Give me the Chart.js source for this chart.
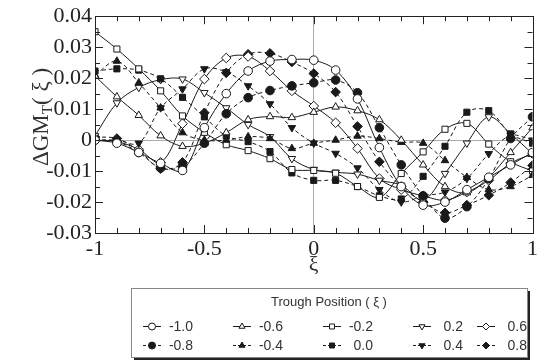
<!DOCTYPE html>
<html>
<head>
<meta charset="utf-8">
<script src="https://cdn.jsdelivr.net/npm/chart.js@4"></script>
<style>
html, body { margin: 0; padding: 0; background: #fff; }
#wrap { width: 541px; height: 362px; }
</style>
</head>
<body>
<div id="wrap"><canvas id="chart"></canvas></div>
<script>
// xi positions where each curve was sampled
const xiValues = [-1.0, -0.9, -0.8, -0.7, -0.6, -0.5, -0.4, -0.3, -0.2, -0.1, 0.0,
                  0.1, 0.2, 0.3, 0.4, 0.5, 0.6, 0.7, 0.8, 0.9, 1.0];

// one array per trough position
const troughM10 = [0.0, -0.001, -0.004, -0.0075, -0.0098, 0.004, 0.015, 0.0223, 0.0255, 0.026, 0.0258,
                   0.0226, 0.0133, -0.0024, -0.015, -0.021, -0.02, -0.016, -0.012, -0.008, -0.004];
const troughM08 = [0.0, -0.0005, -0.004, -0.009, -0.0085, -0.001, 0.0085, 0.0137, 0.016, 0.0175, 0.0185,
                   0.0194, 0.0153, 0.004, -0.008, -0.018, -0.0252, -0.0215, -0.0125, 0.0005, 0.0075];
const troughM06 = [0.0207, 0.014, 0.008, 0.0014, -0.002, -0.001, 0.0024, 0.0066, 0.0076, 0.0073, 0.009,
                   0.0107, 0.0095, 0.0066, 0.0, -0.008, -0.015, -0.017, -0.012, -0.004, 0.004];
const troughM04 = [0.021, 0.0255, 0.0185, 0.0104, 0.0024, 0.0, 0.0, 0.0011, 0.0005, -0.0027, -0.001,
                   0.0, 0.0013, 0.0005, -0.0007, -0.001, -0.0066, -0.012, -0.016, -0.015, -0.0114];
const troughM02 = [0.035, 0.0294, 0.023, 0.0159, 0.0078, 0.0025, -0.0015, -0.0034, -0.006, -0.0095, -0.0098,
                   -0.0107, -0.015, -0.0185, -0.0108, -0.0038, 0.0035, 0.0054, -0.0013, -0.007, -0.01];
const trough00  = [0.0223, 0.023, 0.0226, 0.0198, 0.0138, 0.0075, 0.0013, -0.0005, -0.0037, -0.0106, -0.013,
                   -0.013, -0.015, -0.018, -0.019, -0.0117, -0.002, 0.009, 0.0095, 0.002, -0.001];
const trough02  = [0.0014, 0.012, 0.017, 0.0195, 0.0197, 0.0153, 0.0104, 0.005, 0.0011, -0.006, -0.0095,
                   -0.0104, -0.011, -0.013, -0.0146, -0.0194, -0.0108, -0.001, 0.0075, 0.002, -0.0044];
const trough04  = [0.0, 0.0, -0.001, 0.0104, 0.0165, 0.023, 0.022, 0.0175, 0.0117, 0.004, -0.001,
                   -0.0043, -0.009, -0.016, -0.02, -0.018, -0.0168, -0.0124, -0.0044, 0.0015, 0.0];
const trough06  = [0.0, -0.0005, -0.003, -0.0072, 0.0053, 0.0197, 0.0265, 0.027, 0.0223, 0.0159, 0.011,
                   0.0056, -0.0027, -0.0124, -0.016, -0.018, -0.0194, -0.0168, -0.013, -0.0075, -0.0044];
const trough08  = [0.001, 0.0005, -0.0034, -0.0092, -0.0072, 0.0088, 0.0217, 0.0277, 0.028, 0.0252, 0.0215,
                   0.0155, 0.0044, -0.007, -0.015, -0.02, -0.0235, -0.021, -0.0178, -0.0137, -0.0082];

const seriesLabels = ['-1.0', '-0.8', '-0.6', '-0.4', '-0.2', '0.0', '0.2', '0.4', '0.6', '0.8'];
const seriesValues = [troughM10, troughM08, troughM06, troughM04, troughM02,
                      trough00, trough02, trough04, trough06, trough08];

const xTickLabels = ['-1', '-0.5', '0', '0.5', '1'];
const yTickLabels = ['-0.03', '-0.02', '-0.01', '0', '0.01', '0.02', '0.03', '0.04'];

// marker per series: open markers with solid line, filled with dashed line
const shapes = ['circle', 'circle', 'triangle', 'triangle', 'rect', 'rect', 'triangle', 'triangle', 'rectRot', 'rectRot'];
const rotations = [0, 0, 0, 0, 0, 0, 180, 180, 0, 0];
const ink = '#1a1a1a';

const datasets = seriesLabels.map((lab, i) => {
    const filled = i % 2 === 1;
    return {
        label: lab,
        data: xiValues.map((x, k) => ({ x: x, y: seriesValues[i][k] })),
        borderColor: ink,
        borderWidth: 1,
        borderDash: filled ? [4, 3] : [],
        backgroundColor: filled ? ink : '#fff',
        pointStyle: shapes[i],
        pointRotation: rotations[i],
        pointRadius: shapes[i] === 'rectRot' ? 4.8 : 4.3,
        pointBorderWidth: 1,
        pointBorderColor: ink,
        pointBackgroundColor: filled ? ink : '#fff',
        tension: 0.35,
        fill: false
    };
});

function nearZero(v) { return Math.abs(v) < 1e-9; }

// inside tick marks on all four sides, plus frame
const frameTicks = {
    id: 'frameTicks',
    afterDatasetsDraw(chart) {
        const { ctx, chartArea: a, scales } = chart;
        ctx.save();
        ctx.strokeStyle = '#222';
        ctx.lineWidth = 1;
        ctx.beginPath();
        for (let i = 0; i <= 20; i++) {
            const x = Math.round(scales.x.getPixelForValue(-1 + i * 0.1)) + 0.5;
            const len = i % 5 === 0 ? 8 : 5;
            ctx.moveTo(x, a.bottom); ctx.lineTo(x, a.bottom - len);
            ctx.moveTo(x, a.top); ctx.lineTo(x, a.top + len);
        }
        for (let i = 0; i <= 14; i++) {
            const y = Math.round(scales.y.getPixelForValue(-0.03 + i * 0.005)) + 0.5;
            const len = i % 2 === 0 ? 8 : 5;
            ctx.moveTo(a.left, y); ctx.lineTo(a.left + len, y);
            ctx.moveTo(a.right, y); ctx.lineTo(a.right - len, y);
        }
        ctx.stroke();
        ctx.strokeRect(Math.round(a.left) + 0.5, Math.round(a.top) + 0.5,
                       Math.round(a.right - a.left), Math.round(a.bottom - a.top));
        ctx.restore();
    },
    afterDraw(chart) {
        const ctx = chart.ctx;
        // y axis title with subscript
        ctx.save();
        ctx.translate(42, 117);
        ctx.rotate(-Math.PI / 2);
        ctx.fillStyle = '#333';
        ctx.textBaseline = 'middle';
        const big = '23px "Liberation Serif", "Times New Roman", serif';
        const small = '15px "Liberation Serif", "Times New Roman", serif';
        const parts = [['\u0394GM', big, 0], ['T', small, 6], ['( \u03be )', big, 0]];
        let w = 0;
        parts.forEach(p => { ctx.font = p[1]; w += ctx.measureText(p[0]).width; });
        let x = -w / 2;
        parts.forEach(p => {
            ctx.font = p[1];
            ctx.fillText(p[0], x, p[2]);
            x += ctx.measureText(p[0]).width;
        });
        ctx.restore();

        // legend box
        const bx = 131, by = 288, bw = 396, bh = 69;
        ctx.save();
        ctx.fillStyle = '#222';
        ctx.fillRect(bx + 3, by + 3, bw, bh);
        ctx.fillStyle = '#fff';
        ctx.strokeStyle = '#888';
        ctx.lineWidth = 1;
        ctx.fillRect(bx, by, bw, bh);
        ctx.strokeRect(bx + 0.5, by + 0.5, bw, bh);
        ctx.fillStyle = '#333';
        ctx.font = '13px "Liberation Sans", Arial, sans-serif';
        ctx.textAlign = 'center';
        ctx.textBaseline = 'middle';
        ctx.fillText('Trough Position ( \u03be )', bx + bw / 2, 302);
        ctx.textAlign = 'right';
        ctx.font = '14px "Liberation Sans", Arial, sans-serif';
        const colX = [143, 233, 323, 413, 477];
        const rowY = [326, 345];
        for (let i = 0; i < seriesLabels.length; i++) {
            const col = Math.floor(i / 2), row = i % 2;
            const x0 = colX[col], y0 = rowY[row];
            ctx.strokeStyle = ink;
            ctx.setLineDash(row === 1 ? [3, 2] : []);
            ctx.beginPath();
            ctx.moveTo(x0, y0 + 0.5); ctx.lineTo(x0 + 18, y0 + 0.5);
            ctx.stroke();
            ctx.setLineDash([]);
            ctx.fillStyle = row === 1 ? ink : '#fff';
            Chart.helpers.drawPoint(ctx, {
                pointStyle: shapes[i], rotation: rotations[i],
                radius: 3.5, borderWidth: 1
            }, x0 + 9, y0 + 0.5);
            ctx.fillStyle = '#333';
            ctx.fillText(seriesLabels[i], x0 + 50, y0 + 1);
        }
        ctx.restore();
    }
};

const config = {
    type: 'line',
    data: { datasets: datasets },
    options: {
        responsive: true,
        maintainAspectRatio: false,
        animation: false,
        layout: { padding: { top: 15, right: 8, bottom: 82, left: 0 } },
        plugins: { legend: { display: false }, tooltip: { enabled: false } },
        scales: {
            x: {
                type: 'linear',
                min: -1, max: 1,
                afterFit: s => { s.height = 47; },
                border: { display: false },
                grid: {
                    drawTicks: false,
                    color: c => nearZero(c.tick.value) ? '#aaa' : 'transparent'
                },
                ticks: {
                    stepSize: 0.1, autoSkip: false, maxRotation: 0, padding: 3,
                    color: '#222',
                    font: { family: '"Liberation Serif", "Times New Roman", serif', size: 22 },
                    callback: v => {
                        const k = Math.round(v * 2);
                        if (Math.abs(v * 2 - k) > 1e-6) return '';
                        return xTickLabels[k + 2];
                    }
                },
                title: {
                    display: true, text: '\u03be', color: '#333',
                    font: { family: '"Liberation Serif", "Times New Roman", serif', size: 22 },
                    padding: { top: 0, bottom: 2 }
                }
            },
            y: {
                min: -0.03, max: 0.04,
                afterFit: s => { s.width = 95; },
                border: { display: false },
                grid: {
                    drawTicks: false,
                    color: c => nearZero(c.tick.value) ? '#aaa' : 'transparent'
                },
                ticks: {
                    stepSize: 0.01, padding: 3, color: '#222',
                    font: { family: '"Liberation Serif", "Times New Roman", serif', size: 22 },
                    callback: v => yTickLabels[Math.round(v * 100) + 3]
                }
            }
        }
    },
    plugins: [frameTicks]
};

const chart = new Chart(document.getElementById('chart'), config);
</script>
</body>
</html>
